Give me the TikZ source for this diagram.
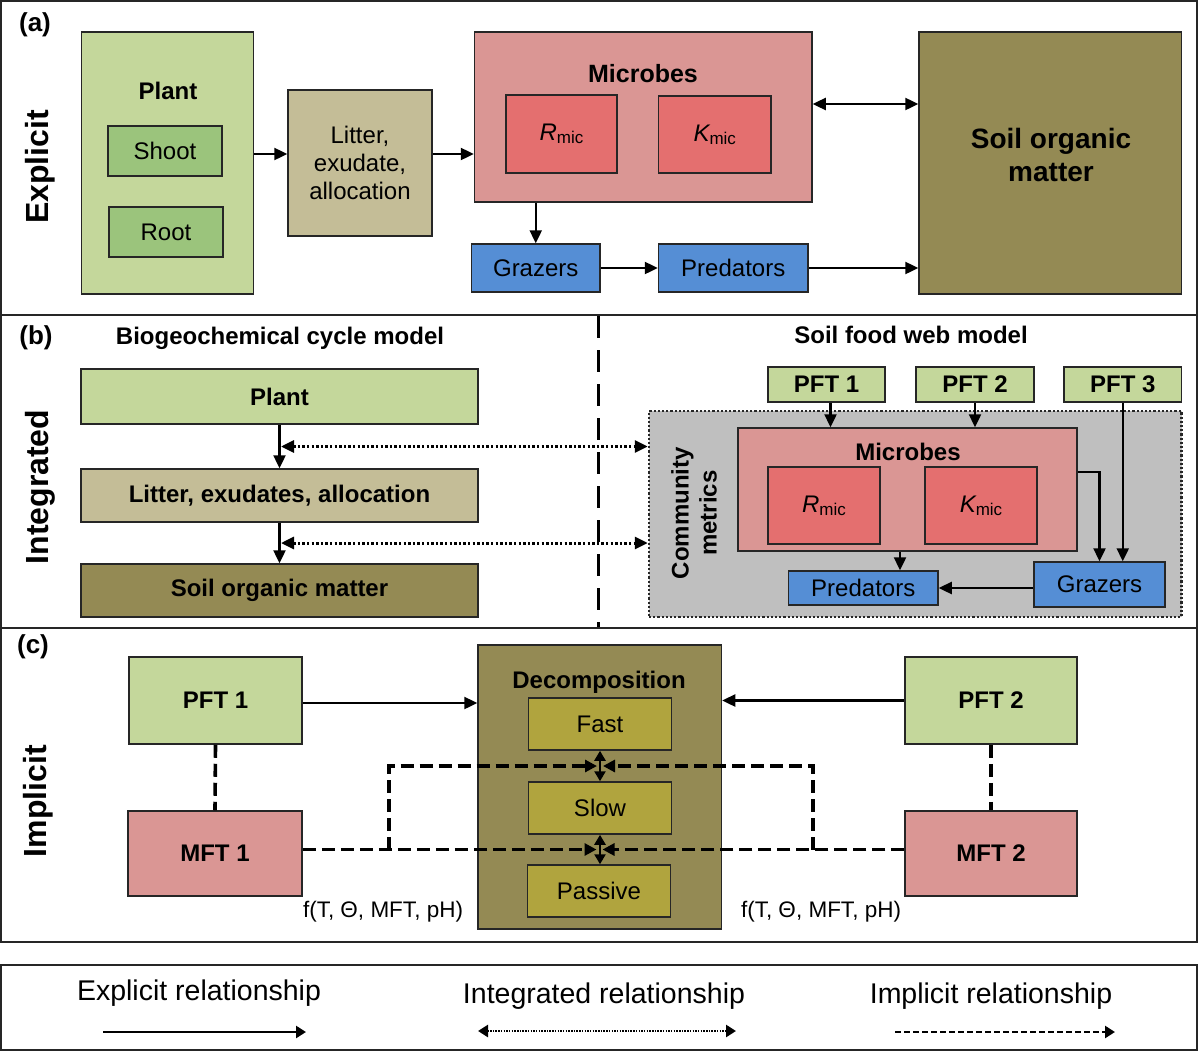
\documentclass[tikz,border=0pt]{standalone}
\usepackage{fontspec}
\setmainfont{Liberation Sans}
\usetikzlibrary{arrows.meta,calc}
\definecolor{plantg}{HTML}{C4D79B}
\definecolor{shootg}{HTML}{9BC47C}
\definecolor{littert}{HTML}{C4BD97}
\definecolor{micp}{HTML}{DA9694}
\definecolor{micr}{HTML}{E46F6F}
\definecolor{soilo}{HTML}{948A54}
\definecolor{poolo}{HTML}{B0A43E}
\definecolor{blueb}{HTML}{558ED5}
\definecolor{grayc}{HTML}{BFBFBF}
\newcommand\fbold{\fontsize{24}{28}\selectfont\bfseries}
\newcommand\freg{\fontsize{24}{28}\selectfont}
\newcommand\fside{\fontsize{32}{36}\selectfont\bfseries}
\newcommand\mysub[1]{{\itshape #1}\raisebox{-0.25ex}{\fontsize{17}{17}\selectfont mic}}
\begin{document}
\begin{tikzpicture}[x=1pt,y=-1pt,
  box/.style={draw=black!85, line width=1.5pt, inner sep=0pt, align=center},
  lbl/.style={inner sep=0pt, align=center},
  panel/.style={draw=black!85, line width=2pt},
  arr/.style={line width=2.4pt, -{Triangle[length=13pt,width=12pt]}},
  darr/.style={line width=2.4pt, {Triangle[length=13pt,width=12pt]}-{Triangle[length=13pt,width=12pt]}},
  dotarr/.style={line width=3pt, dash pattern=on 2.4pt off 2.2pt, {Triangle[length=13pt,width=12pt]}-{Triangle[length=13pt,width=12pt]}},
  dsh/.style={line width=3.6pt, dash pattern=on 13pt off 6pt},
  dsharr/.style={line width=3.6pt, dash pattern=on 13pt off 6pt, -{Triangle[length=12pt,width=12pt]}},
  vdarr/.style={line width=2.4pt, {Triangle[length=10pt,width=11pt]}-{Triangle[length=10pt,width=11pt]}}
]
\useasboundingbox (0,0) rectangle (1200,1052);
\fill[white] (0,0) rectangle (1200,1052);
% panels
\draw[panel] (1,1) rectangle (1197,315);
\draw[panel] (1,315) rectangle (1197,628);
\draw[panel] (1,628) rectangle (1197,942);
\draw[panel] (1,965) rectangle (1197,1050);

% ---------------- panel (a)
\node[lbl, font=\fontsize{26}{28}\selectfont\bfseries] (la) at (35,25) {(a)};
\node[lbl, font=\fside, rotate=90] (sideA) at (40,167) {Explicit};
\node[box, fill=plantg, minimum width=172pt, minimum height=262pt] (plantA) at (167.5,163) {};
\node[lbl, font=\fbold] (plantAt) at (168,91) {Plant};
\node[box, fill=shootg, minimum width=114pt, minimum height=50pt, font=\freg] (shoot) at (165,151) {Shoot};
\node[box, fill=shootg, minimum width=114pt, minimum height=50pt, font=\freg] (root) at (166,232) {Root};
\node[box, fill=littert, minimum width=144pt, minimum height=146pt, font=\freg] (litterA) at (360,163) {Litter,\\exudate,\\allocation};
\node[box, fill=micp, minimum width=337.5pt, minimum height=170pt] (microA) at (643.25,117) {};
\node[lbl, font=\fontsize{25}{28}\selectfont\bfseries] (microAt) at (643,74) {Microbes};
\node[box, fill=micr, minimum width=111pt, minimum height=78pt, font=\freg] (rmicA) at (561.5,134) {\mysub{R}};
\node[box, fill=micr, minimum width=112.5pt, minimum height=77pt, font=\freg] (kmicA) at (714.75,134.5) {\mysub{K}};
\node[box, fill=soilo, minimum width=262.5pt, minimum height=262pt] (somA) at (1050.25,163) {};
\node[lbl, font=\fontsize{28}{33}\selectfont\bfseries] (somAt) at (1051,155) {Soil organic\\matter};
\node[box, fill=blueb, minimum width=128.5pt, minimum height=48pt, font=\freg] (grazA) at (535.75,268) {Grazers};
\node[box, fill=blueb, minimum width=149.5pt, minimum height=48pt, font=\freg] (predA) at (733.25,268) {Predators};

\draw[arr] ([yshift=9pt]plantA.east) -- ([yshift=9pt]litterA.west);
\draw[arr] ([yshift=9pt]litterA.east) -- ([yshift=9pt]litterA.east -| microA.west);
\draw[darr] ([yshift=13pt]microA.east) -- ([yshift=13pt]microA.east -| somA.west);
\draw[arr] (grazA.north |- microA.south) -- (grazA.north);
\draw[arr] (grazA.east) -- (predA.west);
\draw[arr] (predA.east) -- (predA.east -| somA.west);

% ---------------- panel (b)
\node[lbl, font=\fontsize{26}{28}\selectfont\bfseries] (lb) at (36,338) {(b)};
\node[lbl, font=\fside, rotate=90] (sideB) at (40,487) {Integrated};
\node[lbl, font=\fbold] (titleB1) at (280,338) {Biogeochemical cycle model};
\node[lbl, font=\fbold] (titleB2) at (911,335) {Soil food web model};
\node[box, fill=plantg, minimum width=397pt, minimum height=55pt, font=\fbold] (plantB) at (279.5,396.5) {Plant};
\node[box, fill=littert, minimum width=397pt, minimum height=53pt, font=\fbold] (litterB) at (279.5,495.5) {Litter, exudates, allocation};
\node[box, fill=soilo, minimum width=397pt, minimum height=53pt, font=\fbold] (somB) at (279.5,590.5) {Soil organic matter};
\draw[arr] (plantB.south) -- (litterB.north);
\draw[arr] (litterB.south) -- (somB.north);
\coordinate (dv1) at (598,316);
\coordinate (dv2) at (598,627);
\draw[line width=3pt, dash pattern=on 22pt off 12pt] (dv1) -- (dv2);

\node[inner sep=0pt, draw=black!85, line width=2.5pt, dash pattern=on 2.2pt off 2pt, fill=grayc, minimum width=532.5pt, minimum height=206pt] (gray) at (915.25,514) {};
\coordinate (m1b) at ($(plantB.south)!0.5!(litterB.north)$);
\coordinate (m2b) at ($(litterB.south)!0.5!(somB.north)$);
\draw[dotarr] ([xshift=1.5pt]m1b) -- (m1b -| gray.west);
\draw[dotarr] ([xshift=1.5pt]m2b) -- (m2b -| gray.west);

\node[box, fill=plantg, minimum width=117pt, minimum height=35pt, font=\fbold] (pft1B) at (826.5,384.5) {PFT 1};
\node[box, fill=plantg, minimum width=118pt, minimum height=35pt, font=\fbold] (pft2B) at (975,384.5) {PFT 2};
\node[box, fill=plantg, minimum width=117.5pt, minimum height=35pt, font=\fbold] (pft3B) at (1122.75,384.5) {PFT 3};
\node[box, fill=micp, minimum width=339pt, minimum height=123pt] (microB) at (907.5,489.5) {};
\node[lbl, font=\fbold] (microBt) at (908,452) {Microbes};
\node[box, fill=micr, minimum width=112pt, minimum height=77pt, font=\freg] (rmicB) at (824,505.5) {\mysub{R}};
\node[box, fill=micr, minimum width=112pt, minimum height=77pt, font=\freg] (kmicB) at (981,505.5) {\mysub{K}};
\node[box, fill=blueb, minimum width=149.5pt, minimum height=34pt, font=\freg] (predB) at (863.25,588) {Predators};
\node[box, fill=blueb, minimum width=131pt, minimum height=45pt, font=\freg] (grazB) at (1099.5,584.5) {Grazers};
\node[lbl, font=\fbold, rotate=90, align=center] (commB) at (694,513) {Community\\metrics};

\draw[arr] ([xshift=4pt]pft1B.south) -- ([xshift=4pt]pft1B.south |- microB.north);
\draw[arr] (pft2B.south) -- (pft2B.south |- microB.north);
\draw[arr] (pft3B.south) -- (pft3B.south |- grazB.north);
\draw[arr] ([yshift=17.5pt]microB.east) -| (grazB.north);
\draw[arr] ([xshift=-7.5pt]microB.south) -- ([xshift=-7.5pt]microB.south |- predB.north);
\draw[arr] ([yshift=-3.5pt]grazB.west) -- (predB.east);

% ---------------- panel (c)
\node[lbl, font=\fontsize{26}{28}\selectfont\bfseries] (lc) at (33,647) {(c)};
\node[lbl, font=\fside, rotate=90] (sideC) at (38,801) {Implicit};
\node[box, fill=plantg, minimum width=173pt, minimum height=87pt, font=\fbold] (pft1C) at (215.5,700.5) {PFT 1};
\node[box, fill=micp, minimum width=174pt, minimum height=85pt, font=\fbold] (mft1C) at (215,853.5) {MFT 1};
\node[box, fill=plantg, minimum width=172pt, minimum height=87pt, font=\fbold] (pft2C) at (991,700.5) {PFT 2};
\node[box, fill=micp, minimum width=172pt, minimum height=85pt, font=\fbold] (mft2C) at (991,853.5) {MFT 2};
\node[box, fill=soilo, minimum width=243.5pt, minimum height=284pt] (decomp) at (599.75,787) {};
\node[lbl, font=\fbold] (decompt) at (599,682) {Decomposition};
\node[box, fill=poolo, minimum width=143pt, minimum height=52pt, font=\freg] (fast) at (600,724) {Fast};
\node[box, fill=poolo, minimum width=143pt, minimum height=52pt, font=\freg] (slow) at (600,808) {Slow};
\node[box, fill=poolo, minimum width=143pt, minimum height=52pt, font=\freg] (passive) at (599,891) {Passive};
\node[lbl, font=\fontsize{22.5}{24}\selectfont] (f1) at (383,912) {f(T, Θ, MFT, pH)};
\node[lbl, font=\fontsize{22.5}{24}\selectfont] (f2) at (821,912) {f(T, Θ, MFT, pH)};

\draw[arr] ([yshift=-2.5pt]pft1C.east) -- ([yshift=-2.5pt]pft1C.east -| decomp.west);
\draw[arr] (pft2C.west) -- (pft2C.west -| decomp.east);
\draw[dsh] (pft1C.south) -- (mft1C.north);
\draw[dsh] (pft2C.south) -- (mft2C.north);
\draw[vdarr] (fast.south) -- (fast.south |- slow.north);
\draw[vdarr] (slow.south) -- (slow.south |- passive.north);
\coordinate (m1c) at ($(fast.south)!0.5!(slow.north)$);
\coordinate (m2c) at ($(slow.south)!0.5!(passive.north)$);
\coordinate (jl) at (389,0);
\coordinate (jr) at (813,0);
\draw[dsharr] (mft1C.east |- m2c) -- ([xshift=-3pt]m2c);
\draw[dsharr] (jl |- m2c) |- ([xshift=-3pt]m1c);
\draw[dsharr] (mft2C.west |- m2c) -- ([xshift=3pt]m2c);
\draw[dsharr] (jr |- m2c) |- ([xshift=3pt]m1c);

% ---------------- legend
\node[lbl, font=\fontsize{28.5}{30}\selectfont] (lg1) at (199,993) {Explicit relationship};
\node[lbl, font=\fontsize{28.5}{30}\selectfont] (lg2) at (604,996) {Integrated relationship};
\node[lbl, font=\fontsize{28.5}{30}\selectfont] (lg3) at (991,996) {Implicit relationship};
\coordinate (la1) at (103,1032);
\coordinate (la2) at (306,1032);
\coordinate (lb1) at (478,1031);
\coordinate (lb2) at (736,1031);
\coordinate (lc1) at (895,1032);
\coordinate (lc2) at (1115,1032);
\draw[line width=2.5pt, -{Triangle[length=10pt,width=12pt]}] (la1) -- (la2);
\draw[line width=2.5pt, dash pattern=on 1.5pt off 1.2pt, {Triangle[length=10pt,width=12pt]}-{Triangle[length=10pt,width=12pt]}] (lb1) -- (lb2);
\draw[line width=2.5pt, dash pattern=on 6pt off 3pt, -{Triangle[length=10pt,width=12pt]}] (lc1) -- (lc2);
\end{tikzpicture}
\end{document}
